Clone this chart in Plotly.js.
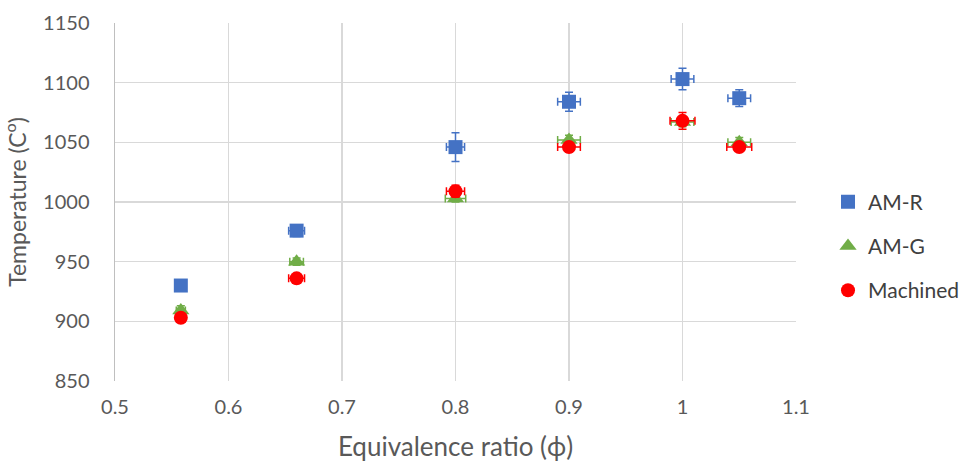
<!DOCTYPE html>
<html>
<head>
<meta charset="utf-8">
<script src="https://cdn.plot.ly/plotly-3.0.1.min.js"></script>
<style>html,body{margin:0;padding:0;background:#fff;}#chart{width:965px;height:464px;}</style>
</head>
<body>
<div id="chart"></div>
<script>
// Data
const seriesNames = ["AM-R", "AM-G", "Machined"];
const phi = [0.558, 0.66, 0.8, 0.9, 1.0, 1.05];

const amR = [930, 976, 1046, 1084, 1103, 1087];
const amG = [909, 950, 1003, 1052, 1067, 1050];
const machined = [903, 936, 1009, 1046, 1068, 1046];

const amRyErr = [2, 5, 12, 8, 9, 7];
const amGyErr = [4, 3, 3, 4, 4, 4];
const machinedYErr = [2, 3, 5, 4, 7, 3];

const amRxErr = [0.004, 0.007, 0.008, 0.01, 0.01, 0.01];
const amGxErr = [0.004, 0.006, 0.009, 0.01, 0.01, 0.01];
const machinedXErr = [0.004, 0.007, 0.008, 0.01, 0.011, 0.011];

const xTicks = [0.5, 0.6, 0.7, 0.8, 0.9, 1, 1.1];
const xTickText = ["0.5", "0.6", "0.7", "0.8", "0.9", "1", "1.1"];
const yTicks = [850, 900, 950, 1000, 1050, 1100, 1150];

const colors = ["#4472C4", "#70AD47", "#FF0000"];
const symbols = ["square", "triangle-up", "circle"];
const sizes = [14, 15, 14];
const ys = [amR, amG, machined];
const yErrs = [amRyErr, amGyErr, machinedYErr];
const xErrs = [amRxErr, amGxErr, machinedXErr];

const traces = seriesNames.map((name, i) => ({
  type: "scatter",
  mode: "markers",
  name: name,
  legendgroup: name,
  x: phi,
  y: ys[i],
  marker: {symbol: symbols[i], size: sizes[i], color: colors[i]},
  error_y: {type: "data", array: yErrs[i], visible: true, color: colors[i], thickness: 1.5, width: 4},
  error_x: {type: "data", array: xErrs[i], visible: true, color: colors[i], thickness: 1.5, width: 4}
}));

const fontFam = "Lato, 'Open Sans', sans-serif";
const layout = {
  width: 965,
  height: 464,
  margin: {l: 115, r: 169, t: 23, b: 83, autoexpand: false},
  paper_bgcolor: "#fff",
  plot_bgcolor: "#fff",
  font: {family: fontFam, color: "#595959", size: 20},
  showlegend: true,
  legend: {
    x: 1.047, xanchor: "left",
    y: 0.377, yanchor: "middle",
    font: {size: 21, color: "#404040"},
    traceorder: "grouped",
    tracegroupgap: 14,
    itemwidth: 30
  },
  xaxis: {
    range: [0.5, 1.1],
    tickvals: xTicks,
    ticktext: xTickText,
    showgrid: true,
    gridcolor: "#d9d9d9",
    gridwidth: 1.5,
    zeroline: false,
    showline: false,
    ticks: "",
    automargin: false,
    ticklabelstandoff: 12,
    tickfont: {size: 20, color: "#595959"},
    title: {text: "Equivalence ratio (ϕ)", font: {size: 26, color: "#595959"}, standoff: 20}
  },
  yaxis: {
    range: [850, 1150],
    tickvals: yTicks,
    showgrid: true,
    gridcolor: "#d9d9d9",
    gridwidth: 1.5,
    zeroline: false,
    showline: true,
    linecolor: "#bfbfbf",
    linewidth: 1.5,
    ticks: "",
    automargin: false,
    ticklabelstandoff: 20,
    tickfont: {size: 20, color: "#595959"},
    title: {text: "Temperature (C<sup>o</sup>)", font: {size: 23, color: "#595959"}, standoff: 10}
  }
};

Plotly.newPlot("chart", traces, layout, {displayModeBar: false, staticPlot: true});
</script>
</body>
</html>
